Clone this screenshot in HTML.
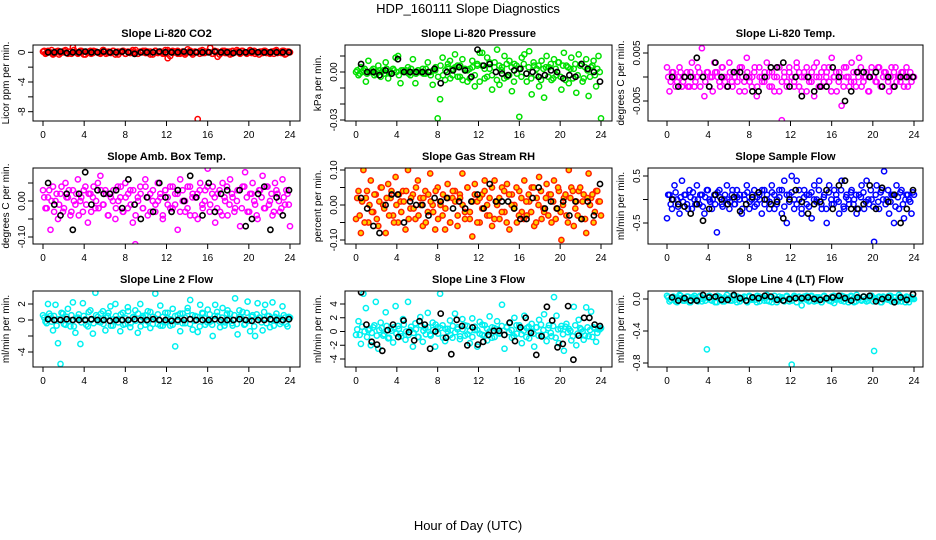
<!DOCTYPE html>
<html><head><meta charset="utf-8"><style>
html,body{margin:0;padding:0;background:#fff;}
svg{display:block;font-family:"Liberation Sans",sans-serif;}
</style></head><body>
<svg id="chart" width="936" height="540" viewBox="0 0 936 540">
<text x="468" y="13" text-anchor="middle" font-size="13">HDP_160111  Slope Diagnostics</text>
<text x="468" y="530" text-anchor="middle" font-size="13">Hour of Day (UTC)</text>
</svg>
<script>
// ---- data ----
const xTicks = [0,4,8,12,16,20,24];
const co2Color = [0.1,-0.2,0.2,0,-0.3,0.1,0.2,-0.1,0,0.3,-0.2,0.1,0.7,0,-0.2,0.2,0.1,-0.3,0,0.2,-0.1,0.1,0,-0.2,0.3,0.1,-0.1,0,0.2,-0.3,0.1,0,0.2,-0.2,0.1,-0.1,0.3,0,-0.2,0.1,0,0.2,-0.1,0.1,-0.3,0.2,0,0.1,-0.2,0.3,-0.8,-0.5,0.2,0.1,-0.2,0,0.1,-0.1,0.4,0.2,-0.3,0.1,-9.0,0.2,-0.1,0.1,0,0.6,-0.2,0.1,-0.6,0,0.2,-0.1,0.1,-0.3,0.2,0,0.1,-0.2,0.2,0,-0.1,0.3,0.1,-0.2,0,0.1,-0.1,0.2,0,-0.2,0.1,0.2,-0.1,0,0.2,-0.3,0.1,0];
const co2Core = [0.2,-0.1,0,0.3,-0.2,0.1,-0.3,0,0.2,-0.1,0.1,-0.2,0.3,0,-0.1,0.2,-0.3,0.1,0,-0.2,0.2,0.1,-0.1,0,0.3,-0.2,0.1,-0.1,0.2,0,-0.3,0.1,0.2,-0.2,0,0.1,-0.1,0.3,-0.2,0,0.2,-0.1,0.1,-0.3,0,0.2,-0.1,0.1,0,-0.2,0.3,0.1,-0.1,0,0.2,-0.2,0.1,-0.3,0,0.2,-0.1,0.1,0,-0.2,0.3,-0.1,0.1,0,-0.2,0.2,0.1,-0.3,0,0.2,-0.1,0.1,-0.2,0,0.3,-0.1,0.2,0,-0.2,0.1,-0.1,0.2,0,-0.3,0.1,0.2,-0.1,0,0.1,-0.2,0.3,0,-0.1,0.2,-0.2,0.1];
const co2Black = [0,0,0.1,-0.1,0,0,0.1,0,0,0.1,0,0,0.1,0,-0.2,0,0,0,0.1,0,0,0,0.1,0,0,0,0,0.1,0,0,-0.1,0,0,0.1,0,0,0,0,0,0];
const presColor = [0,-0.002,0.003,0.001,-0.006,0.007,0,0.002,-0.001,0.004,-0.003,0.001,0.006,-0.004,0,0.002,0.009,0.01,-0.007,0.001,0,0.003,-0.002,0.008,-0.007,0.001,0,0.002,-0.001,0.006,0,-0.008,0.001,-0.029,-0.017,0.009,-0.005,0.003,0.007,-0.002,0.011,0.004,-0.003,0.008,0.001,-0.006,0.002,0.007,-0.009,0.004,0.012,0.012,-0.004,0.009,0.002,-0.011,0.006,0.014,-0.008,0.003,0.01,-0.003,0.007,-0.012,0.005,-0.001,-0.028,0.009,0.011,-0.006,0.013,-0.014,0.004,0.002,-0.009,0.007,-0.016,0.01,0.003,-0.005,0.008,-0.002,0.006,-0.011,0.012,0.004,-0.007,0.009,0.002,-0.013,0.011,0.005,-0.004,0.008,-0.015,0.003,0.007,-0.009,0.01,-0.029];
const presCore = [0.001,-0.001,0,0.002,-0.001,0,0.001,-0.002,0,0.001,0,-0.001,0.002,0,-0.001,0.001,0,-0.002,0.001,0,0.001,-0.001,0.002,0,-0.001,0.001,0,-0.001,0.002,0,-0.002,0.001,0.003,-0.003,0.004,-0.002,0.001,0.005,-0.004,0.002,0.003,-0.003,0.004,-0.005,0.002,0.001,-0.004,0.003,-0.002,0.005,-0.006,0.004,0.002,-0.003,0.006,-0.002,0.003,-0.005,0.004,0.001,-0.004,0.005,-0.002,0.003,-0.006,0.004,0.002,-0.003,0.005,-0.001,0.003,-0.004,0.006,-0.002,0.004,-0.005,0.002,0.003,-0.003,0.005,-0.004,0.002,0.006,-0.003,0.004,-0.005,0.003,0.002,-0.004,0.005,-0.002,0.004,-0.006,0.003,0.001,-0.003,0.004,-0.002,0.002,0];
const presBlack = [0.005,0,0,-0.002,0.001,-0.001,0.008,0,0,0,0,0,0.002,-0.007,0,0.001,0.003,0.001,-0.003,0.014,0.004,0.005,0,-0.001,-0.002,0.001,0.002,-0.001,0,-0.003,-0.002,0.001,0,-0.004,-0.002,-0.003,0.005,0.002,0,-0.006];
const ltempColor = [0.002,-0.003,0.001,0,-0.001,0.002,-0.002,0,0.001,-0.002,0.003,-0.002,0,0.001,0.006,-0.004,0.001,-0.002,0,0.003,0.001,-0.001,0.002,0,-0.002,0.003,-0.001,0,0.001,-0.003,0.002,-0.001,0.004,0,-0.002,0.001,-0.004,0.002,0,-0.001,0.003,0.001,-0.002,0,0.002,-0.003,-0.009,0.001,-0.001,0.002,0,-0.002,0.003,0.001,-0.003,0,0.002,-0.001,0.001,-0.004,0.003,0,-0.002,0.002,0.001,-0.001,0.004,0,-0.003,0.001,-0.006,0.002,0,-0.002,0.003,-0.001,0.001,0.004,-0.002,0,0.001,-0.003,0.002,0,-0.001,0.002,-0.002,0.001,0,-0.003,0.002,0.001,-0.001,0,0.001,-0.002,0.002,0,-0.001,0];
const ltempCore = [0,-0.001,0.001,-0.002,0,0.001,-0.001,0,-0.002,0.001,0,-0.001,0.002,-0.002,0,-0.001,0.001,0,-0.003,0.001,0,-0.002,0.002,-0.001,0,0.001,-0.002,0,-0.001,0.002,0,-0.003,0.001,-0.001,0,0.002,-0.002,0,-0.001,0.001,0,-0.002,0.001,-0.003,0,0.002,-0.001,0,-0.002,0.001,0,-0.001,0.002,-0.002,0,0.001,-0.003,0,-0.001,0.002,0,-0.002,0.001,-0.001,0,0.002,-0.003,0,0.001,-0.001,0,-0.002,0.002,0,-0.001,0.001,-0.002,0,0.002,-0.001,0,-0.003,0.001,0,-0.001,0.002,-0.002,0,0.001,-0.001,0,-0.002,0.002,0,-0.001,0.001,0,-0.002,0.001,0];
const ltempBlack = [0,-0.002,0,0,0.004,0,-0.002,0.003,0,-0.002,0.001,0.001,0,-0.003,-0.003,0,0.002,0.002,0.003,-0.002,0,-0.004,0,-0.003,-0.002,-0.002,0.002,0,-0.005,-0.003,0.001,0.001,0,0.001,-0.002,0,-0.002,0,0,0];
const boxColor = [0.03,-0.02,0.01,-0.08,0.04,0,-0.05,0.02,-0.03,0.05,0.01,-0.04,0.03,-0.01,0.06,0,-0.03,0.04,-0.06,0.02,0.01,-0.02,0.05,0.07,-0.01,0.03,-0.04,0.02,0,-0.05,0.04,0.01,-0.03,0.05,-0.02,0.03,-0.06,-0.12,0.01,0.04,-0.02,0.06,-0.04,0.02,0,-0.03,0.05,0.01,-0.05,0.03,-0.01,0.04,-0.02,0.02,-0.08,0.06,0,-0.03,0.04,-0.04,0.02,0.01,-0.05,0.05,-0.02,0.03,0.09,-0.01,0.04,-0.06,0.02,-0.03,0.05,0,-0.04,0.06,0.01,-0.02,0.03,-0.07,0.04,0.08,-0.03,0.02,0.05,-0.01,-0.05,0.03,0.07,-0.02,0.04,0,-0.04,0.05,0.02,-0.03,0.06,-0.01,0.02,-0.07];
const boxCore = [0.01,-0.02,0.03,0,-0.03,0.02,-0.01,0.04,-0.02,0.01,0.03,-0.03,0,0.02,-0.04,0.01,0.03,-0.01,0.02,-0.03,0.04,0,-0.02,0.03,-0.01,0.02,-0.04,0.01,0.03,-0.02,0,0.04,-0.03,0.01,0.02,-0.01,0.03,-0.04,0,0.02,-0.02,0.04,0.01,-0.03,0.03,-0.01,0,0.02,-0.04,0.03,0.01,-0.02,0.04,-0.01,0.02,-0.03,0.03,0,-0.02,0.04,0.01,-0.04,0.02,0.03,-0.01,0,0.04,-0.03,0.02,0.01,-0.02,0.03,-0.04,0.01,0.04,-0.01,0.02,-0.03,0,0.03,-0.02,0.04,0.01,-0.03,0.02,0,-0.04,0.03,0.01,-0.02,0.04,-0.01,0.02,-0.03,0.03,0,-0.02,0.01,0.03,-0.01];
const boxBlack = [0.05,-0.01,-0.04,0.02,-0.08,0.02,0.08,-0.01,0.03,0.02,0.02,0.03,-0.02,0.06,-0.01,-0.05,0.01,-0.03,0.05,0.01,-0.03,0.03,0,0.07,0.01,-0.04,0.05,-0.03,0.02,0.03,0.1,0.03,-0.07,-0.05,0.02,0.04,-0.08,0.01,-0.04,0.03];
const rhColor = [-0.04,0.04,-0.08,0.1,0.02,-0.05,0.07,-0.02,0.03,-0.06,0.05,0,-0.08,0.06,0.02,-0.03,0.08,-0.05,0.01,0.04,-0.07,0.1,-0.01,0.03,-0.04,0.07,0.02,-0.06,0.04,-0.02,0.09,0,-0.07,0.05,0.01,-0.03,-0.07,0.06,-0.05,0.02,0.04,-0.06,0.03,0.09,-0.02,0.05,-0.04,-0.09,0.06,0.01,-0.05,0.03,0.07,-0.03,0.02,-0.06,0.07,0,-0.04,0.05,-0.02,0.06,-0.07,0.03,0,-0.05,0.04,-0.02,0.07,-0.03,0.01,0.05,-0.06,0.02,0.08,-0.04,-0.02,0.06,0.03,-0.05,0.07,-0.01,0.04,-0.1,0.02,-0.03,0.1,0.05,-0.06,0.01,0.04,-0.04,0.03,-0.08,0.09,0.02,-0.05,0.04,0.01,-0.03];
const rhCore = [0.02,-0.03,0.01,-0.05,0.04,0,-0.02,0.03,-0.04,0.01,0.05,-0.01,0.02,-0.03,0.04,-0.05,0,0.03,-0.02,0.01,0.04,-0.04,0.02,-0.01,0.05,-0.03,0,0.02,-0.05,0.03,0.01,-0.02,0.04,-0.04,0,0.03,-0.01,0.02,-0.05,0.04,0.01,-0.03,0.02,0,-0.04,0.05,-0.02,0.01,0.03,-0.05,0.02,-0.01,0.04,0,-0.03,0.05,-0.04,0.01,0.02,-0.02,0.04,-0.05,0.03,0,-0.01,0.05,-0.03,0.02,-0.04,0.01,0.03,-0.02,0.05,-0.05,0,0.04,-0.01,0.02,-0.03,0.03,0.01,-0.04,0.05,-0.02,0,0.03,-0.05,0.02,0.04,-0.01,-0.03,0.05,0.01,-0.04,0.02,0,0.03,-0.02,0.04,0.01];
const rhBlack = [0.02,-0.01,-0.06,-0.08,0,0.03,0.03,-0.05,0.01,0,0,-0.03,0.02,0.01,0.02,-0.01,0.01,-0.01,0.01,0.03,-0.01,0.06,0.01,0.01,0.01,-0.01,-0.04,-0.04,0.02,0.05,-0.01,0.01,-0.01,0.01,-0.03,0.01,-0.04,0.01,-0.03,0.06];
const sampColor = [-0.4,0.1,-0.2,0.3,0,-0.3,0.4,0.1,-0.1,0.2,-0.2,0,0.3,-0.1,0.1,-0.3,0.2,0,-0.2,0.1,-0.7,0.2,-0.1,0,0.3,-0.2,0.1,-0.1,0.2,0,-0.3,0.1,0.3,-0.2,0,0.2,-0.1,0.1,-0.3,0.2,0,-0.2,0.3,0.1,-0.1,0.2,-0.3,0.4,-0.5,0.1,0.5,-0.2,0.4,0,-0.3,0.2,-0.1,0.1,-0.4,0.3,0,0.4,-0.2,0.1,-0.5,0.3,-0.1,0.2,0,-0.3,0.4,-0.2,0.1,-0.1,0.2,0,-0.3,0.1,0.3,-0.2,0.4,-0.1,0,-0.9,0.3,-0.2,0.2,0.6,0,-0.3,0.1,-0.5,0.3,-0.2,0.2,-0.4,0.1,0,-0.3,0.1];
const sampCore = [0.1,-0.1,0,0.15,-0.15,0.05,-0.05,0.1,-0.2,0.05,0.15,-0.1,0,0.1,-0.15,0.05,0.2,-0.05,0,-0.1,0.15,0.05,-0.15,0.1,0,-0.05,0.2,-0.1,0.05,0.1,-0.2,0,0.15,-0.05,0.1,-0.15,0.05,0,0.2,-0.1,0.1,-0.05,0.15,-0.2,0,0.05,0.2,-0.15,0.1,-0.05,0.15,0,-0.1,0.2,-0.2,0.05,0.1,-0.15,0.15,0,-0.05,0.2,-0.1,0.05,-0.2,0.15,0,-0.1,0.1,-0.05,0.2,-0.15,0.05,0,0.15,-0.1,0.1,-0.2,0.05,0.15,-0.05,0,0.2,-0.15,0.1,-0.05,0.15,0,-0.1,0.2,-0.05,0.1,-0.15,0.05,0.15,-0.1,0,0.1,-0.05,0.15];
const sampBlack = [0,-0.1,-0.15,-0.3,-0.1,-0.45,-0.2,0.1,0,-0.1,0.05,-0.25,-0.1,0.05,0.15,0,-0.1,-0.05,-0.4,0,0.2,-0.05,-0.3,-0.1,-0.05,0.2,-0.2,0.3,0.4,-0.2,-0.2,-0.1,0.3,-0.2,0.25,-0.05,0.1,-0.5,-0.2,0.2];
const line2Color = [0.6,-0.2,2,0.5,-1.3,1.9,-2.9,-5.5,0.8,-0.6,1.4,-0.8,2.2,-1.6,0.3,-3,2.1,0.1,-0.8,1.2,-1.7,3.4,0.4,-0.3,1.1,-1.3,0.5,1.7,-0.7,2,0.1,-1.4,0.9,-0.5,1.6,-0.9,0.3,1.2,-1.6,2,0.5,-0.6,1.1,-1,0.4,3.3,-0.5,1.8,-0.7,0.9,0.2,-0.7,1.4,-3.3,0.6,-1.4,0.8,-0.4,1.5,2.5,-1.2,0.5,-1.5,1.9,0.8,-0.6,1.3,-0.2,-2,1.9,0.5,-0.9,1.5,-0.3,1.2,0.8,-0.7,2.7,-1.8,0.4,1,-0.5,2.3,-1.4,0.6,-2,2.1,0.3,-1.3,1.9,0.5,-0.9,2.2,0.4,0.2,-0.5,1.7,0.3,-0.8,0.3];
const line2Core = [0.3,-0.4,0.8,-0.2,0.5,-0.7,0.1,0.9,-0.5,0.4,-0.1,0.6,-0.8,0.2,0.7,-0.3,0.5,-0.6,1,0,-0.4,0.6,-0.2,0.8,-0.5,0.3,0.9,-0.7,0.1,0.5,-0.3,0.7,-0.6,0.2,1.1,-0.4,0.4,-0.1,0.8,-0.8,0.3,0.6,-0.2,1,-0.5,0.2,0.7,-0.7,0.4,-0.3,0.9,0.1,-0.6,0.5,-0.2,0.8,-0.4,0.3,1.1,-0.5,0.6,-0.1,0.4,-0.8,0.9,0.2,-0.3,0.7,-0.6,0.5,1,-0.2,0.3,-0.7,0.8,0.1,-0.4,0.6,-0.5,1.2,0.2,-0.6,0.9,-0.1,0.4,-0.8,0.7,0.3,-0.3,1,-0.4,0.5,0,-0.7,0.8,0.2,-0.2,0.6,-0.5,0.4];
const line2Black = [0.1,0,0,0.1,0,0,0,0.1,0,0,-0.1,0,0,0,0.1,0,0,0.1,0,0,-0.1,0,0,0.1,0,0,0,0.1,0,0,0,0.1,0,-0.1,0,0,0.1,0,0,0.1];
const line3Color = [-0.5,1.5,-1.8,5.5,3.4,0.2,-2,0.6,4.3,-2.5,1.3,-0.6,2.8,-1,0.4,-1.6,3.7,0.8,-0.3,1.8,-1.2,4.3,0.2,-2.2,1.2,-0.8,2.1,-1.5,0.5,2.7,-0.4,1.3,-2.2,0.6,5.5,0.9,-1.4,0.4,1.6,-0.9,2.6,0.3,-1.1,1.8,-0.6,0.8,-1.7,1.9,0.2,-2.2,1.4,-0.5,0.9,-1.3,2.2,0.6,-0.8,1.5,-0.3,3.9,-2.5,0.7,1.2,-0.9,2,-0.3,0.9,-1.7,2.3,0.5,-1,1.1,-2.2,0.6,1.7,-0.5,2.5,-1.4,0.9,-0.7,5,2.3,-1.7,0.8,-2.8,1.1,0.4,-1.3,3.6,-2,1.7,0.3,-1.2,3.5,-0.7,2.9,0.6,-1.5,0.3,0.5];
const line3Core = [0.3,-0.5,0.7,0,-0.8,0.4,-0.2,0.9,-0.6,0.2,0.5,-0.4,0.8,-0.9,0.1,0.6,-0.3,0.4,-0.7,1,0,-0.5,0.7,-0.2,0.3,-0.8,0.9,0.1,-0.4,0.6,-0.6,0.2,1,-0.3,0.5,-0.9,0.4,0,-0.5,0.8,-0.1,0.6,-0.7,0.3,0.9,-0.4,0.1,-0.8,0.7,0.2,-0.3,1,-0.6,0.4,0,-0.9,0.5,0.3,-0.2,0.8,-0.5,0.6,-0.1,0.2,-0.7,0.9,0.4,-0.4,0.1,-0.8,0.7,0,-0.3,0.6,-0.6,1,0.2,-0.5,0.5,-0.2,0.8,-0.9,0.3,0.4,-0.4,0.7,-0.1,0.1,-0.7,0.9,-0.3,0.5,0,-0.6,0.6,0.2,-0.8,0.4,-0.2,0.3];
const line3Black = [5.7,1,-1.5,-1.9,-2.8,0.2,1,-0.8,1.6,-0.1,-1.3,1.5,1,-2.5,0,2.6,-0.9,-3.3,1.7,0.8,-2,0.6,-1.9,-1.5,-0.5,0.1,0.1,-0.5,1.3,-1.4,0.6,2,-0.2,-3.4,-0.7,3.6,1.6,-2.3,-1.8,3.7,-4.1,-0.6,2,2,1,0.8];
const line4Color = [0.04,-0.03,0.02,0,-0.04,0.05,0.01,-0.02,0.03,-0.04,0.02,0.04,-0.01,0.03,-0.03,0.01,-0.63,0.04,-0.02,0.02,-0.04,0.03,0,-0.03,0.05,0.01,-0.02,0.04,-0.04,0.02,0,0.03,-0.03,0.04,-0.01,0.02,-0.04,0.03,0.01,-0.02,0.05,-0.03,0.02,0,-0.04,0.03,0.01,-0.02,0.04,-0.03,-0.82,0.02,-0.04,0.03,-0.08,0.01,0.04,-0.02,0.03,-0.03,0.02,0,-0.04,0.04,0.01,-0.02,0.03,-0.05,0.02,0,0.04,-0.03,0.02,-0.01,0.03,-0.04,0.05,0.01,-0.02,0.03,-0.03,0.02,0.04,-0.65,-0.01,0.03,-0.04,0.02,0,0.04,-0.03,0.02,-0.02,0.05,-0.03,0.01,0.03,-0.04,0.02,0];
const line4Core = [0.02,-0.01,0.03,-0.03,0.01,0.04,-0.02,0,0.03,-0.04,0.02,0.01,-0.03,0.04,0,-0.02,0.03,-0.01,0.02,-0.04,0.04,0.01,-0.03,0.02,0,-0.02,0.04,-0.01,0.03,-0.03,0.01,0.02,-0.04,0.03,0,-0.01,0.04,-0.03,0.02,0.01,-0.02,0.03,-0.04,0.04,0,-0.01,0.02,-0.03,0.03,0.01,-0.02,0.04,-0.04,0.02,0,0.03,-0.01,-0.03,0.04,0.01,-0.02,0.02,-0.04,0.03,0,0.01,-0.03,0.04,-0.01,0.02,-0.02,0.03,0,-0.04,0.04,0.01,-0.03,0.02,-0.01,0.03,0,-0.02,0.04,-0.03,0.01,0.02,-0.04,0.03,0,-0.01,0.04,-0.02,0.02,-0.03,0.03,0.01,-0.04,0.02,0,0.01];
const line4Black = [0.02,-0.02,0.01,-0.02,-0.02,0.05,0.02,0.03,-0.01,-0.01,0.05,0.01,-0.02,0.02,0.01,0.04,0.03,-0.01,-0.02,0,0.01,0.01,0.02,0,-0.01,0.01,0.02,0.04,0.01,-0.02,0.02,0.03,0.04,-0.03,0,0.02,-0.04,0.02,-0.01,0.06];

const yTicks = {
  co2:[0,-2,-4,-6,-8], pres:[0.01,0,-0.01,-0.02,-0.03], ltemp:[0.005,0,-0.005],
  box:[0.05,0,-0.05,-0.1], rh:[0.1,0.05,0,-0.05,-0.1], samp:[0.5,0,-0.5],
  line2:[2,0,-2,-4], line3:[4,2,0,-2,-4], line4:[0,-0.4,-0.8]
};
const yTickLabels = {
  co2:["0","","-4","","-8"], pres:["","0.00","","","-0.03"], ltemp:["0.005","","-0.005"],
  box:["","0.00","","-0.10"], rh:["0.10","","0.00","","-0.10"], samp:["0.5","","-0.5"],
  line2:["2","0","","-4"], line3:["4","2","0","-2","-4"], line4:["0.0","-0.4","-0.8"]
};

// ---- layout (positions, not data) ----
const panels = [
 {key:'co2', title:'Slope Li-820 CO2', ylab:'Licor ppm per min.', color:'#ff0000', fill:'none', cv:co2Color, core:co2Core, kv:co2Black, L:33,R:300,T:45,B:121, x0:43,x1:290, ya:0,yaPx:52.3, yb:-8,ybPx:111.7},
 {key:'pres', title:'Slope Li-820 Pressure', ylab:'kPa per min.', color:'#00e000', fill:'none', cv:presColor, core:presCore, kv:presBlack, L:345,R:612,T:45,B:121, x0:356,x1:601, ya:0,yaPx:72, yb:-0.03,ybPx:120},
 {key:'ltemp', title:'Slope Li-820 Temp.', ylab:'degrees C per min.', color:'#ff00ff', fill:'none', cv:ltempColor, core:ltempCore, kv:ltempBlack, L:648,R:923,T:45,B:121, x0:667,x1:914, ya:0.005,yaPx:53, yb:-0.005,ybPx:101},
 {key:'box', title:'Slope Amb. Box Temp.', ylab:'degrees C per min.', color:'#ff00ff', fill:'none', cv:boxColor, core:boxCore, kv:boxBlack, L:33,R:300,T:168,B:244, x0:43,x1:290, ya:0,yaPx:201, yb:-0.1,ybPx:237},
 {key:'rh', title:'Slope Gas Stream RH', ylab:'percent per min.', color:'#ff2000', fill:'#ffd000', cv:rhColor, core:rhCore, kv:rhBlack, L:345,R:612,T:168,B:244, x0:356,x1:601, ya:0.1,yaPx:170, yb:-0.1,ybPx:240},
 {key:'samp', title:'Slope Sample Flow', ylab:'ml/min per min.', color:'#0000ff', fill:'none', cv:sampColor, core:sampCore, kv:sampBlack, L:648,R:923,T:168,B:244, x0:667,x1:914, ya:0.5,yaPx:176, yb:-0.5,ybPx:223},
 {key:'line2', title:'Slope Line 2 Flow', ylab:'ml/min per min.', color:'#00f0f0', fill:'none', cv:line2Color, core:line2Core, kv:line2Black, L:33,R:300,T:291,B:367, x0:43,x1:290, ya:2,yaPx:304, yb:-4,ybPx:352},
 {key:'line3', title:'Slope Line 3 Flow', ylab:'ml/min per min.', color:'#00f0f0', fill:'none', cv:line3Color, core:line3Core, kv:line3Black, L:345,R:612,T:291,B:367, x0:356,x1:601, ya:4,yaPx:304, yb:-4,ybPx:359},
 {key:'line4', title:'Slope Line 4 (LT) Flow', ylab:'ml/min per min.', color:'#00f0f0', fill:'none', cv:line4Color, core:line4Core, kv:line4Black, L:648,R:923,T:291,B:367, x0:667,x1:914, ya:0,yaPx:299, yb:-0.8,ybPx:363}
];

const NS='http://www.w3.org/2000/svg';
const svg=document.getElementById('chart');
function mk(tag, attrs, parent){const e=document.createElementNS(NS,tag);for(const k in attrs)e.setAttribute(k,attrs[k]);(parent||svg).appendChild(e);return e;}

panels.forEach(p=>{
  const g=mk('g',{});
  
  
  const xs=h=>p.x0+(h/24)*(p.x1-p.x0);
  const ys=v=>p.yaPx+(v-p.ya)/(p.yb-p.ya)*(p.ybPx-p.yaPx);
  const clip=mk('clipPath',{id:'clip-'+p.key},g);
  mk('rect',{x:p.L,y:p.T,width:p.R-p.L,height:p.B-p.T},clip);
  const t=mk('text',{x:(p.L+p.R)/2,y:p.T-8,'text-anchor':'middle','font-size':'11','font-weight':'bold'},g);
  t.textContent=p.title;
  
  
  const yl=mk('text',{x:0,y:0,'text-anchor':'middle','font-size':'10',transform:`translate(${p.L-24},${(p.T+p.B)/2}) rotate(-90)`},g);
  yl.textContent=p.ylab;
  
  
  const pts=mk('g',{'clip-path':`url(#clip-${p.key})`},g);
  
  
  const nc=p.cv.length;
  p.cv.forEach((v,i)=>{
    const h=i*24/(nc-1);
    const c=mk('circle',{cx:xs(h).toFixed(1),cy:ys(v).toFixed(1),r:2.6,fill:p.fill,stroke:p.color,'stroke-width':1.5},pts);
    
    
  });
  const nq=p.core.length;
  p.core.forEach((v,i)=>{
    const h=(i+0.5)*24/nq;
    const c=mk('circle',{cx:xs(h).toFixed(1),cy:ys(v).toFixed(1),r:2.6,fill:p.fill,stroke:p.color,'stroke-width':1.5},pts);
    
    
  });
  const nk=p.kv.length;
  p.kv.forEach((v,i)=>{
    const h=0.5+i*23.4/(nk-1);
    const c=mk('circle',{cx:xs(h).toFixed(1),cy:ys(v).toFixed(1),r:2.6,fill:'none',stroke:'#000','stroke-width':1.6},pts);
    
    
  });
  const bx=mk('rect',{x:p.L,y:p.T,width:p.R-p.L,height:p.B-p.T,fill:'none',stroke:'#000','stroke-width':1},g);
  
  
  const xa=mk('g',{},g);
  
  
  xTicks.forEach(tv=>{
    const x=xs(tv);
    mk('line',{x1:x,x2:x,y1:p.B,y2:p.B+5,stroke:'#000'},xa);
    const tl=mk('text',{x:x,y:p.B+17,'text-anchor':'middle','font-size':'10'},xa);
    tl.textContent=String(tv);
  });
  const ya=mk('g',{},g);
  
  
  yTicks[p.key].forEach((tv,i)=>{
    const y=ys(tv);
    mk('line',{x1:p.L-5,x2:p.L,y1:y,y2:y,stroke:'#000'},ya);
    const lab=yTickLabels[p.key][i];
    if(lab){
      const tl=mk('text',{x:0,y:0,'text-anchor':'middle','font-size':'10',transform:`translate(${p.L-8},${y}) rotate(-90)`},ya);
      tl.textContent=lab;
    }
  });
});
</script>
</body></html>
